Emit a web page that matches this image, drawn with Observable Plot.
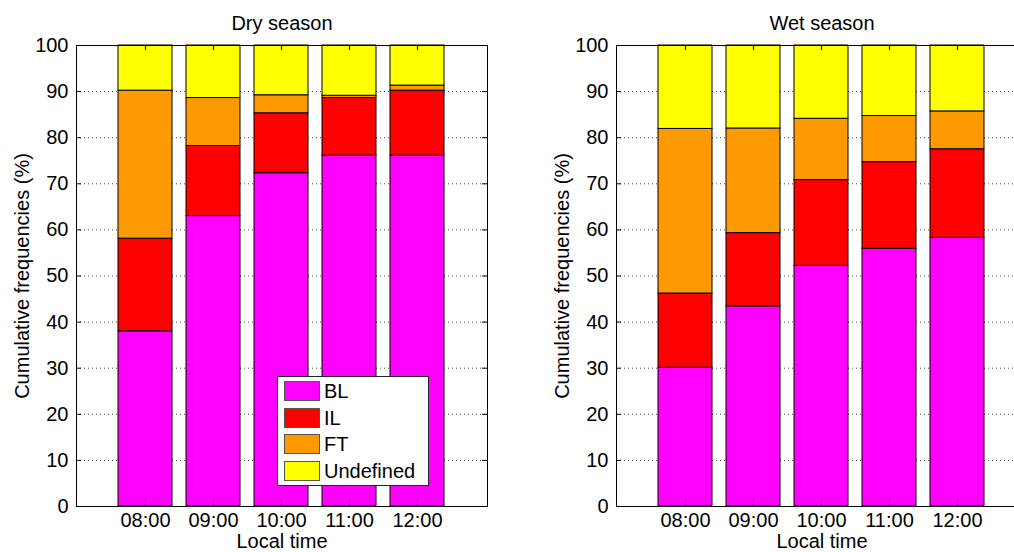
<!DOCTYPE html>
<html><head><meta charset="utf-8">
<script src="https://cdn.jsdelivr.net/npm/d3@7"></script>
<script src="https://cdn.jsdelivr.net/npm/@observablehq/plot@0.6"></script>
<style>
html,body{margin:0;padding:0;background:#fff;overflow:hidden;}
#wrap{position:relative;width:1014px;height:552px;overflow:hidden;font-family:"Liberation Sans",Arial,sans-serif;background:#fff;}
.panel{position:absolute;top:0;width:507px;height:552px;}
.panel svg{max-width:none !important;display:block;}
.legend{position:absolute;background:#fff;border:1px solid #222;box-sizing:border-box;}
.legend .sw{position:absolute;width:36px;height:20px;border:1px solid #555;box-sizing:border-box;}
.legend .lb{position:absolute;font-size:20px;line-height:20px;color:#000;}
</style></head><body><div id="wrap"></div><script>
const hours = ["08:00","09:00","10:00","11:00","12:00"];
const layers = ["BL","IL","FT","Undefined"];
const layerColors = ["#ff00ff","#ff0000","#ff9900","#ffff00"];
const seasons = ["Dry season","Wet season"];
// frequencies (%) per layer, per hour
const dryBL = [38.0, 63.0, 72.3, 76.1, 76.1];
const dryIL = [20.1, 15.2, 13.0, 12.5, 14.1];
const dryFT = [32.1, 10.4, 3.9, 0.5, 1.1];
const dryUndefined = [9.8, 11.4, 10.8, 10.9, 8.7];
const wetBL = [30.1, 43.4, 52.2, 55.9, 58.3];
const wetIL = [16.1, 15.9, 18.6, 18.8, 19.2];
const wetFT = [35.7, 22.7, 13.3, 10.0, 8.2];
const wetUndefined = [18.1, 18.0, 15.9, 15.3, 14.3];
const yTicks = [0,10,20,30,40,50,60,70,80,90,100];
const yLabel = "Cumulative frequencies (%)";
const xLabel = "Local time";

const seasonSeries = [
  [dryBL, dryIL, dryFT, dryUndefined],
  [wetBL, wetIL, wetFT, wetUndefined]
];

const W = 507, H = 552, mL = 76, mR = 20, mT = 45, mB = 46;
const plotW = W - mL - mR, plotH = H - mT - mB;
const panelLeft = [0, 540];
const wrap = document.getElementById("wrap");

seasons.forEach((season, si) => {
  const rows = [];
  layers.forEach((layer, li) => {
    hours.forEach((h, hi) => rows.push({hour: h, layer, value: seasonSeries[si][li][hi]}));
  });
  const chart = Plot.plot({
    width: W, height: H,
    marginLeft: mL, marginRight: mR, marginTop: mT, marginBottom: mB,
    style: {fontFamily: '"Liberation Sans", Arial, sans-serif', fontSize: "20px", background: "transparent", color: "#000", maxWidth: "none"},
    x: {type: "band", domain: hours, paddingInner: 0.2, paddingOuter: 0.6, align: 0.5},
    y: {domain: [0, 100]},
    color: {domain: layers, range: layerColors},
    marks: [
      Plot.gridY(yTicks, {stroke: "#000", strokeOpacity: 0.7, strokeDasharray: "1,3"}),
      Plot.barY(rows, {x: "hour", y: "value", fill: "layer", stroke: "#000", strokeWidth: 1}),
      Plot.tickY(yTicks, {y: d => d, insetRight: plotW - 5, stroke: "#000"}),
      Plot.tickY(yTicks, {y: d => d, insetLeft: plotW - 5, stroke: "#000"}),
      Plot.tickX(hours, {x: d => d, insetTop: plotH - 5, stroke: "#000"}),
      Plot.tickX(hours, {x: d => d, insetBottom: plotH - 5, stroke: "#000"}),
      Plot.frame({stroke: "#000"}),
      Plot.axisY(yTicks, {tickSize: 0, tickPadding: 8, label: null, fontSize: 20}),
      Plot.axisX({tickSize: 0, tickPadding: 6, label: null, fontSize: 20}),
      Plot.text([season], {text: d => d, frameAnchor: "top", dy: -30, fontSize: 20}),
      Plot.text([xLabel], {text: d => d, frameAnchor: "bottom", dy: 41, fontSize: 20}),
      Plot.text([yLabel], {text: d => d, frameAnchor: "left", textAnchor: "middle", rotate: -90, dx: -54, fontSize: 20})
    ]
  });
  chart.style.maxWidth = "none";
  const div = document.createElement("div");
  div.className = "panel";
  div.style.left = panelLeft[si] + "px";
  div.appendChild(chart);
  wrap.appendChild(div);
});

// legend (inside left panel)
const leg = document.createElement("div");
leg.className = "legend";
leg.style.left = "277px"; leg.style.top = "376px";
leg.style.width = "152px"; leg.style.height = "110px";
layers.forEach((layer, i) => {
  const sw = document.createElement("div");
  sw.className = "sw";
  sw.style.left = "6px"; sw.style.top = (4 + i * 26.7) + "px";
  sw.style.background = layerColors[i];
  leg.appendChild(sw);
  const lb = document.createElement("div");
  lb.className = "lb";
  lb.style.left = "46px"; lb.style.top = (4 + i * 26.7) + "px";
  lb.textContent = layer;
  leg.appendChild(lb);
});
wrap.appendChild(leg);
</script></body></html>
